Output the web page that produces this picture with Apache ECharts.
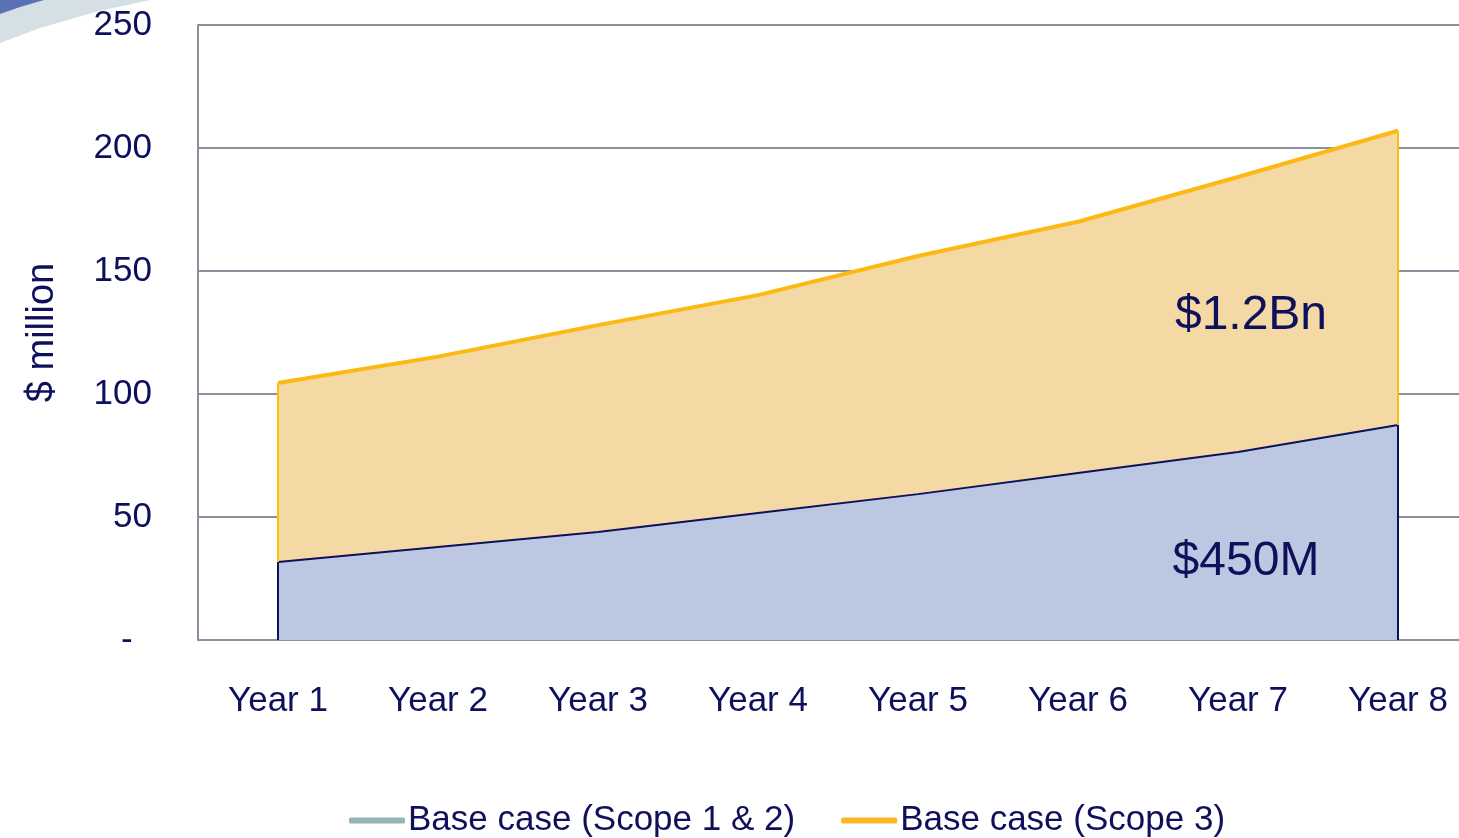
<!DOCTYPE html>
<html>
<head>
<meta charset="utf-8">
<title>Base case emissions cost</title>
<script src="https://cdn.jsdelivr.net/npm/echarts@6/dist/echarts.min.js"></script>
<style>
  html, body { margin: 0; padding: 0; background: #fff; }
  #chart { width: 1459px; height: 838px; }
</style>
</head>
<body>
<div id="chart"></div>
<script>
// data ($ million per year)
const years = ['Year 1', 'Year 2', 'Year 3', 'Year 4', 'Year 5', 'Year 6', 'Year 7', 'Year 8']
const scope12 = [31.7, 37.8, 43.9, 51.6, 59.3, 67.9, 76.4, 87.4]
const scope3 = [104.5, 115.2, 128.0, 140.2, 156.1, 170.0, 188.2, 207.0]
const yTicks = { min: 0, max: 250, step: 50 }

const NAVY = '#0e105c'
const GRID = '#8f8c9d'
const FONT = '"Liberation Sans Narrow", "Arial Narrow", "Liberation Sans", Arial, sans-serif'

const chart = echarts.init(document.getElementById('chart'))

// vertical edges of the area polygons at first/last year
function edges(values, color, width) {
  const last = years.length - 1
  return {
    silent: true,
    symbol: 'none',
    label: { show: false },
    lineStyle: { color: color, width: width, type: 'solid' },
    data: [
      [{ coord: [years[0], 0] }, { coord: [years[0], values[0]] }],
      [{ coord: [years[last], 0] }, { coord: [years[last], values[last]] }]
    ]
  }
}

const option = {
  animation: false,
  textStyle: { fontFamily: FONT },
  grid: { left: 198, top: 25, width: 1280, height: 615, outerBoundsMode: 'none', containLabel: false },
  graphic: [
    // decorative swoosh, top left
    {
      type: 'polygon',
      shape: { points: [[0, 0], [150, 0], [95, 12], [40, 28], [0, 43]] },
      style: { fill: '#d4e0e4' },
      z: -1
    },
    {
      type: 'polygon',
      shape: { points: [[0, 0], [44, 0], [20, 7], [0, 14]] },
      style: { fill: '#5a72b5' },
      z: -1
    },
    {
      type: 'text',
      style: {
        x: 1251, y: 316, text: '$1.2Bn', fill: NAVY,
        font: '48px ' + FONT, textAlign: 'center', textVerticalAlign: 'middle'
      },
      z: 10
    },
    {
      type: 'text',
      style: {
        x: 1246, y: 562, text: '$450M', fill: NAVY,
        font: '48px ' + FONT, textAlign: 'center', textVerticalAlign: 'middle'
      },
      z: 10
    }
  ],
  legend: {
    left: 349,
    top: 803,
    padding: 0,
    itemWidth: 56,
    itemHeight: 6,
    itemGap: 46,
    textStyle: { fontSize: 35, color: NAVY, fontFamily: FONT, padding: [0, 0, 0, -2] },
    data: [
      { name: 'Base case (Scope 1 & 2)', icon: 'roundRect', itemStyle: { color: '#97b3ba' } },
      { name: 'Base case (Scope 3)', icon: 'roundRect', itemStyle: { color: '#fdb822' } }
    ]
  },
  xAxis: {
    type: 'category',
    data: years,
    boundaryGap: true,
    axisTick: { show: false },
    axisLine: { lineStyle: { color: GRID, width: 2 } },
    axisLabel: { color: NAVY, fontSize: 35, margin: 44, fontFamily: FONT }
  },
  yAxis: {
    type: 'value',
    min: yTicks.min,
    max: yTicks.max,
    interval: yTicks.step,
    name: '$ million',
    nameLocation: 'middle',
    nameRotate: 90,
    nameGap: 136,
    nameTextStyle: { fontSize: 38, color: NAVY, fontFamily: FONT },
    axisLine: { show: true, lineStyle: { color: GRID, width: 2 } },
    axisTick: { show: false },
    splitLine: { lineStyle: { color: GRID, width: 2 } },
    axisLabel: {
      color: NAVY,
      fontSize: 35,
      margin: 46,
      fontFamily: FONT,
      formatter: v => (v === 0 ? '-  ' : String(v))
    }
  },
  series: [
    {
      name: 'Base case (Scope 3)',
      type: 'line',
      data: scope3,
      symbol: 'none',
      lineStyle: { color: '#fdb913', width: 4 },
      itemStyle: { color: '#fdb913' },
      areaStyle: { color: '#f4d9a5', opacity: 1, origin: 'start' },
      markLine: edges(scope3, '#fdbf10', 2)
    },
    {
      name: 'Base case (Scope 1 & 2)',
      type: 'line',
      data: scope12,
      symbol: 'none',
      lineStyle: { color: NAVY, width: 2 },
      itemStyle: { color: NAVY },
      areaStyle: { color: '#bcc8e1', opacity: 1, origin: 'start' },
      markLine: edges(scope12, NAVY, 2)
    }
  ]
}

chart.setOption(option)
</script>
</body>
</html>
